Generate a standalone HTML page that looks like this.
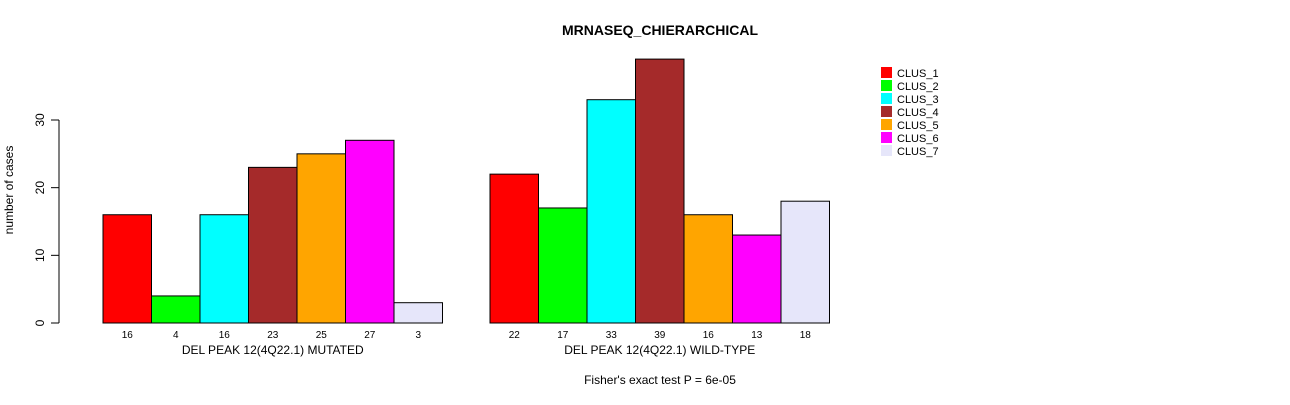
<!DOCTYPE html>
<html><head><meta charset="utf-8"><style>
body{margin:0;background:#fff}
svg{font-family:"Liberation Sans",Arial,sans-serif}
</style></head><body>
<svg id="chart" width="1290" height="400" xmlns="http://www.w3.org/2000/svg">
<text x="660" y="35" text-anchor="middle" font-size="14" font-weight="bold">MRNASEQ_CHIERARCHICAL</text>
<text transform="translate(13,190) rotate(-90)" text-anchor="middle" font-size="12">number of cases</text>
<text x="660" y="384" text-anchor="middle" font-size="12">Fisher's exact test P = 6e-05</text>
<g id="axis"></g><g id="bars"></g><g id="legend"></g>
</svg>
<script>
const groups = ["DEL PEAK 12(4Q22.1) MUTATED", "DEL PEAK 12(4Q22.1) WILD-TYPE"];
const clusters = ["CLUS_1","CLUS_2","CLUS_3","CLUS_4","CLUS_5","CLUS_6","CLUS_7"];
const mutated = [16,4,16,23,25,27,3];
const wildtype = [22,17,33,39,16,13,18];
const yTicks = [0,10,20,30];
const colors = ["#ff0000","#00ff00","#00ffff","#a52a2a","#ffa500","#ff00ff","#e6e6fa"];
const NS="http://www.w3.org/2000/svg";
const y0=323, pxPer=(323-120)/30;
const Y=v=>y0-v*pxPer;
const groupStart=[103,490], barW=48.5;
const X=(g,i)=>groupStart[g]+i*barW;
function mk(tag,attrs,parent){const e=document.createElementNS(NS,tag);for(const k in attrs)e.setAttribute(k,attrs[k]);parent.appendChild(e);return e;}
const ax=document.getElementById('axis');
let l=mk('line',{x1:59,x2:59,y1:Y(0),y2:Y(30),stroke:'#000'},ax);


yTicks.forEach(t=>{
  const tk=mk('line',{x1:51,x2:59,y1:Y(t),y2:Y(t),stroke:'#000'},ax);
  
  
  const tx=mk('text',{transform:`translate(44,${Y(t)}) rotate(-90)`,'text-anchor':'middle','font-size':12},ax);
  tx.textContent=t;
  
  
});
const bg=document.getElementById('bars');
[mutated,wildtype].forEach((arr,g)=>{
  arr.forEach((v,i)=>{
    const r=mk('rect',{x:X(g,i),y:Y(v),width:barW,height:Y(0)-Y(v),fill:colors[i],stroke:'#000','stroke-width':1},bg);
    
    
    const t=mk('text',{x:X(g,i)+barW/2,y:338,'text-anchor':'middle','font-size':10},bg);
    t.textContent=v;
    
    
  });
  const gl=mk('text',{x:groupStart[g]+barW*3.5,y:354,'text-anchor':'middle','font-size':12},bg);
  gl.textContent=groups[g];
  
  
});
const lg=document.getElementById('legend');
clusters.forEach((c,i)=>{
  const r=mk('rect',{x:881,y:67+i*13,width:11,height:11,fill:colors[i]},lg);
  
  
  const t=mk('text',{x:897,y:77+i*13,'font-size':11},lg);
  t.textContent=c;
  
  
});
</script>
</body></html>
